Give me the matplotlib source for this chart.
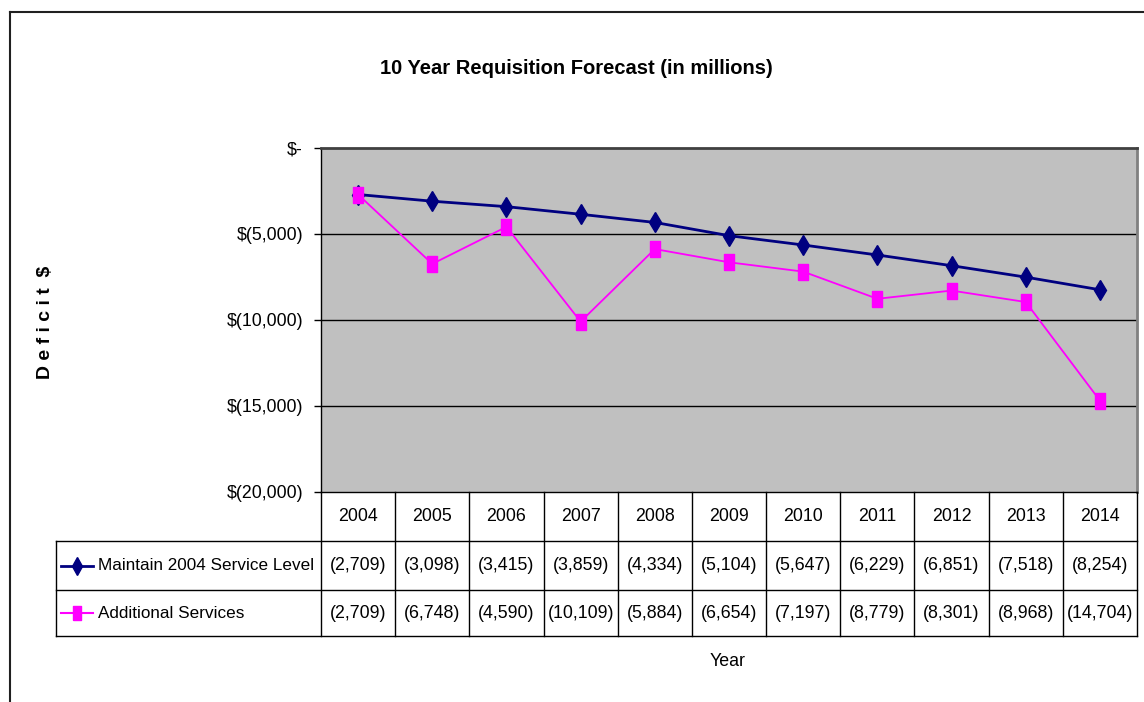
import matplotlib
matplotlib.use("Agg")
import matplotlib.pyplot as plt
from matplotlib import font_manager
from matplotlib.lines import Line2D
from matplotlib.transforms import blended_transform_factory

# ---- data ----
years = ["2004", "2005", "2006", "2007", "2008", "2009", "2010", "2011", "2012", "2013", "2014"]
maintain = [-2709, -3098, -3415, -3859, -4334, -5104, -5647, -6229, -6851, -7518, -8254]
additional = [-2709, -6748, -4590, -10109, -5884, -6654, -7197, -8779, -8301, -8968, -14704]
series_names = ["Maintain 2004 Service Level", "Additional Services"]
yticks = [0, -5000, -10000, -15000, -20000]
title = "10 Year Requisition Forecast (in millions)"
ylabel = "D e f i c i t  $"
xlabel = "Year"

names = {f.name for f in font_manager.fontManager.ttflist}
NARROW = "Liberation Sans Narrow" in names
FONT = "Liberation Sans Narrow" if NARROW else "Liberation Sans"
plt.rcParams["font.family"] = [FONT, "DejaVu Sans"]
FS = 15 if NARROW else 12.8
LFS = 15 if NARROW else 12.3
TFS = 17 if NARROW else 14.5

W, H = 1144, 702
fig = plt.figure(figsize=(W / 100, H / 100), dpi=100)


def fx(px):
    return px / W


def fy(py):
    return 1 - py / H


left, right, top, bottom = 321, 1137, 148, 491.5
ax = fig.add_axes([fx(left), fy(bottom), fx(right - left), fy(top) - fy(bottom)])
ax.set_facecolor("#C0C0C0")
x = list(range(len(years)))
ax.set_xlim(-0.5, len(years) - 0.5)
ax.set_ylim(-20000, 0)

for yv in yticks[1:-1]:
    ax.axhline(yv, color="black", lw=1, zorder=1)

rect = [(-0.3, -0.5), (0.3, -0.5), (0.3, 0.5), (-0.3, 0.5), (-0.3, -0.5)]
ax.plot(x, maintain, color="#000080", lw=2, marker="d", markersize=10, zorder=3,
        clip_on=False)
ax.plot(x, additional, color="#FF00FF", lw=1.3, marker=rect, markersize=11, zorder=4,
        clip_on=False)


def money(v):
    return "$-" if v == 0 else "$({:,})".format(abs(v))


ax.set_yticks(yticks)
ax.set_yticklabels([money(v) for v in yticks])
ax.tick_params(axis="y", direction="out", length=5, width=1, pad=8, labelsize=FS)
ax.set_xticks([])
for s in ["left", "bottom"]:
    ax.spines[s].set_color("black")
    ax.spines[s].set_linewidth(1)
ax.spines["top"].set_color("#404040")
ax.spines["top"].set_linewidth(2)
ax.spines["right"].set_color("#808080")
ax.spines["right"].set_linewidth(2)

# ---- data table below the axes ----
bt = blended_transform_factory(ax.transData, fig.transFigure)
row_top, row1, row2, row_bot = 491.5, 541, 590, 636
leg_left = 56
n = len(years)


def hline(py, x0px, x1px):
    fig.add_artist(Line2D([fx(x0px), fx(x1px)], [fy(py), fy(py)], color="black", lw=1,
                          transform=fig.transFigure))


for i in range(n + 1):
    fig.add_artist(Line2D([i - 0.5, i - 0.5], [fy(row_top), fy(row_bot)], color="black",
                          lw=1, transform=bt))
for py in (row1, row2, row_bot):
    hline(py, leg_left, right)
fig.add_artist(Line2D([fx(leg_left), fx(leg_left)], [fy(row1), fy(row_bot)], color="black",
                      lw=1, transform=fig.transFigure))


def paren(v):
    return "({:,})".format(abs(v))


for i, yr in enumerate(years):
    fig.text(i, fy((row_top + row1) / 2), yr, transform=bt, ha="center", va="center",
             fontsize=FS)
    fig.text(i, fy((row1 + row2) / 2), paren(maintain[i]), transform=bt, ha="center",
             va="center", fontsize=FS)
    fig.text(i, fy((row2 + row_bot) / 2), paren(additional[i]), transform=bt, ha="center",
             va="center", fontsize=FS)

# legend keys inside table
for (name, col, mk, ms, lw), (ya, yb) in zip(
        [(series_names[0], "#000080", "d", 9, 2),
         (series_names[1], "#FF00FF", rect, 10, 1.5)],
        [(row1, row2), (row2, row_bot)]):
    yc = fy((ya + yb) / 2)
    fig.add_artist(Line2D([fx(61), fx(93)], [yc, yc], color=col, lw=lw,
                          transform=fig.transFigure))
    fig.add_artist(Line2D([fx(77)], [yc], color=col, marker=mk, markersize=ms, lw=0,
                          transform=fig.transFigure))
    fig.text(fx(98), yc, name, ha="left", va="center", fontsize=LFS)

# ---- texts ----
fig.text(fx(576), fy(68), title, ha="center", va="center", fontsize=TFS, fontweight="bold")
fig.text(fx(45), fy(322), ylabel, ha="center", va="center", rotation=90, fontsize=14,
         fontweight="bold")
fig.text(fx(728), fy(662), xlabel, ha="center", va="center", fontsize=FS)

# outer frame
fig.add_artist(Line2D([fx(10), fx(10)], [fy(12), 0], color="#202020", lw=1.5,
                      transform=fig.transFigure))
fig.add_artist(Line2D([fx(10), 1], [fy(12), fy(12)], color="#202020", lw=1.5,
                      transform=fig.transFigure))

fig.savefig("out.png", dpi=100)
